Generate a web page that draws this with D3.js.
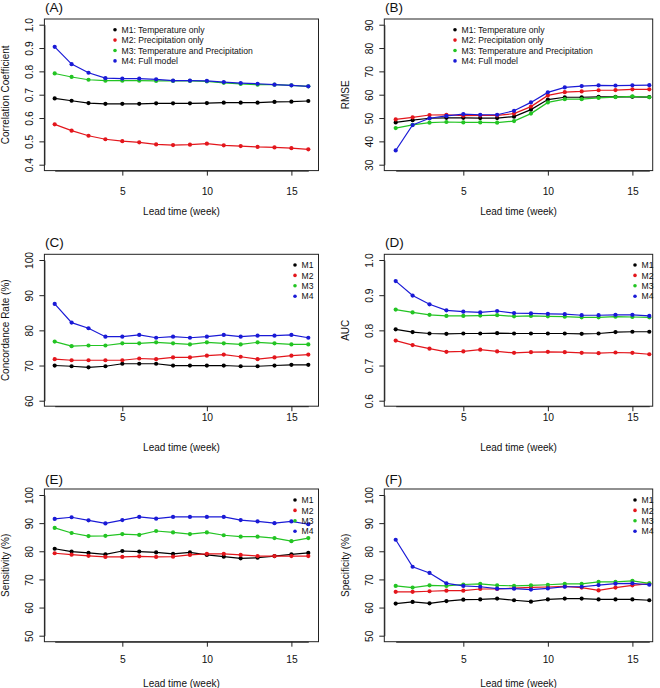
<!DOCTYPE html>
<html><head><meta charset="utf-8">
<script src="https://cdn.jsdelivr.net/npm/d3@7"></script>
<style>
body{margin:0;background:#fff}
svg text{font-family:"Liberation Sans",Arial,Helvetica,sans-serif;fill:#111}
</style>
</head><body>
<svg id="chart" width="660" height="688"></svg>
<script>
// ---------------- data ----------------
const weeks = [1,2,3,4,5,6,7,8,9,10,11,12,13,14,15,16];
const xTicks = [5,10,15];
const modelNames = ["M1","M2","M3","M4"];
const modelLong = ["M1: Temperature only","M2: Precipitation only","M3: Temperature and Precipitation","M4: Full model"];
const modelColors = ["#000000","#e3161c","#23c423","#1a1ad6"];

// (A) Correlation coefficient
const corrM1 = [0.684,0.674,0.664,0.661,0.661,0.661,0.663,0.663,0.663,0.664,0.666,0.666,0.666,0.669,0.670,0.673];
const corrM2 = [0.573,0.546,0.524,0.509,0.501,0.496,0.487,0.484,0.486,0.490,0.483,0.480,0.476,0.474,0.471,0.466];
const corrM3 = [0.791,0.776,0.764,0.760,0.760,0.760,0.759,0.759,0.759,0.757,0.751,0.746,0.743,0.743,0.740,0.736];
const corrM4 = [0.905,0.831,0.794,0.771,0.769,0.769,0.766,0.760,0.760,0.759,0.754,0.750,0.747,0.743,0.740,0.736];
const corrTicks = [0.4,0.5,0.6,0.7,0.8,0.9,1.0];

// (B) RMSE
const rmseM1 = [48.1,49.1,49.9,50.1,50.1,50.0,50.0,50.6,53.6,57.9,58.9,58.9,59.1,59.1,59.1,59.0];
const rmseM2 = [49.4,50.3,51.3,51.4,51.0,51.1,51.1,51.9,54.9,59.7,61.1,61.4,61.9,62.0,62.3,62.3];
const rmseM3 = [45.7,47.1,48.0,48.3,48.1,48.1,48.0,48.7,51.9,56.7,58.1,58.1,58.6,59.0,59.3,58.9];
const rmseM4 = [36.1,47.0,49.9,50.9,51.7,51.4,51.4,53.1,56.7,61.0,63.1,63.7,64.0,63.9,64.0,64.1];
const rmseTicks = [30,40,50,60,70,80,90];

// (C) Concordance rate (%)
const concM1 = [70.0,69.8,69.5,69.8,70.5,70.5,70.5,70.0,70.0,70.0,70.0,69.8,69.8,70.0,70.2,70.2];
const concM2 = [71.8,71.5,71.5,71.5,71.5,72.0,71.8,72.3,72.3,72.8,73.1,72.5,71.8,72.3,72.8,73.1];
const concM3 = [76.8,75.5,75.7,75.7,76.3,76.3,76.6,76.3,76.0,76.6,76.3,76.0,76.6,76.3,76.0,76.0];
const concM4 = [87.5,82.2,80.6,78.2,78.2,78.7,77.9,78.2,77.9,78.2,78.7,78.2,78.5,78.5,78.7,77.9];
const concTicks = [60,70,80,90,100];

// (D) AUC
const aucM1 = [0.803,0.795,0.791,0.790,0.791,0.791,0.792,0.791,0.791,0.791,0.791,0.790,0.791,0.795,0.796,0.796];
const aucM2 = [0.771,0.758,0.748,0.739,0.740,0.745,0.740,0.736,0.738,0.739,0.738,0.736,0.735,0.737,0.736,0.732];
const aucM3 = [0.859,0.851,0.844,0.841,0.841,0.842,0.843,0.840,0.841,0.840,0.839,0.837,0.837,0.839,0.838,0.837];
const aucM4 = [0.940,0.899,0.874,0.857,0.853,0.851,0.855,0.849,0.848,0.847,0.846,0.843,0.843,0.844,0.844,0.841];
const aucTicks = [0.6,0.7,0.8,0.9,1.0];

// (E) Sensitivity (%)
const sensM1 = [80.9,79.9,79.4,78.9,80.1,79.9,79.6,79.1,79.6,78.7,78.1,77.5,77.7,78.3,78.9,79.4];
const sensM2 = [79.3,78.8,78.4,78.0,78.0,78.2,78.0,78.1,78.7,79.1,79.1,78.7,78.3,78.3,78.3,78.3];
const sensM3 = [88.3,86.5,85.4,85.5,86.1,85.8,87.2,86.7,86.1,86.7,85.7,85.2,85.2,84.7,83.6,84.7];
const sensM4 = [91.5,92.1,91.0,89.9,91.1,92.2,91.6,92.2,92.2,92.2,92.2,91.1,90.6,90.0,90.6,89.6];
const sensTicks = [50,60,70,80,90,100];

// (F) Specificity (%)
const specM1 = [61.4,62.0,61.5,62.3,62.8,62.9,63.2,62.6,62.1,62.9,63.2,63.2,62.9,62.9,62.9,62.6];
const specM2 = [65.6,65.6,65.8,66.0,66.0,66.6,66.6,66.9,67.2,67.3,67.5,67.1,66.1,67.1,67.9,68.5];
const specM3 = [67.7,67.1,67.9,67.7,68.2,68.4,67.9,67.7,67.9,68.1,68.4,68.4,69.1,69.1,69.5,68.6];
const specM4 = [84.1,74.5,72.3,68.6,67.7,67.4,66.7,66.7,66.4,66.8,67.4,67.4,68.0,68.5,68.6,68.1];
const specTicks = [50,60,70,80,90,100];

const panelTitles = ["(A)","(B)","(C)","(D)","(E)","(F)"];
const yLabels = ["Correlation Coefficient","RMSE","Concordance Rate (%)","AUC","Sensitivity (%)","Specificity (%)"];
const xLabel = "Lead time (week)";

// ---------------- layout ----------------
const cols = [
  {boxL:44.4, boxR:318.5, x1:54.7, x16:308.3, titleX:45},
  {boxL:384.3, boxR:652.7, x1:395.7, x16:649.3, titleX:385}
];
const rows = [
  {boxT:19.0, boxB:170.6, tTop:24.7, tBot:164.7, tickLab:21.0, xTitle:41.0, head:11.5, legY:10.7},
  {boxT:254.3, boxB:406.2, tTop:260.0, tBot:400.7, tickLab:10.7, xTitle:40.8, head:247.0, legY:10.7},
  {boxT:489.0, boxB:641.7, tTop:495.0, tBot:635.7, tickLab:17.3, xTitle:41.6, head:483.5, legY:11.0}
];
const legendX = [115, 455, 295, 635, 295, 635];

const panels = [
  {series:[corrM1,corrM2,corrM3,corrM4], ticks:corrTicks, fmt:d3.format(".1f"), long:true},
  {series:[rmseM1,rmseM2,rmseM3,rmseM4], ticks:rmseTicks, fmt:d3.format("d"), long:true},
  {series:[concM1,concM2,concM3,concM4], ticks:concTicks, fmt:d3.format("d"), long:false},
  {series:[aucM1,aucM2,aucM3,aucM4], ticks:aucTicks, fmt:d3.format(".1f"), long:false},
  {series:[sensM1,sensM2,sensM3,sensM4], ticks:sensTicks, fmt:d3.format("d"), long:false},
  {series:[specM1,specM2,specM3,specM4], ticks:specTicks, fmt:d3.format("d"), long:false}
];

const svg = d3.select("#chart");
const axisColor = "#222";

panels.forEach((p, i) => {
  const c = cols[i % 2], r = rows[Math.floor(i / 2)];
  const x = d3.scaleLinear().domain([weeks[0], weeks[weeks.length-1]]).range([c.x1, c.x16]);
  const y = d3.scaleLinear().domain([p.ticks[0], p.ticks[p.ticks.length-1]]).range([r.tBot, r.tTop]);
  const g = svg.append("g");

  // box
  g.append("rect").attr("x", c.boxL).attr("y", r.boxT)
    .attr("width", c.boxR - c.boxL).attr("height", r.boxB - r.boxT)
    .attr("fill", "none").attr("stroke", axisColor).attr("stroke-width", 1);

  // y axis
  const ya = g.append("g").attr("transform", `translate(${c.boxL},0)`)
    .call(d3.axisLeft(y).tickValues(p.ticks).tickFormat(p.fmt).tickSize(5).tickSizeOuter(0));
  ya.select(".domain").attr("stroke", axisColor);
  ya.selectAll(".tick line").attr("stroke", axisColor);
  ya.selectAll(".tick text")
    .attr("x", null).attr("dy", null)
    .attr("transform", "translate(-11.5,0) rotate(-90)")
    .attr("text-anchor", "middle")
    .style("font-size", "10.3px").style("fill", "#111");

  // x axis
  const xa = g.append("g").attr("transform", `translate(0,${r.boxB})`)
    .call(d3.axisBottom(x).tickValues(xTicks).tickFormat(d3.format("d")).tickSize(5).tickSizeOuter(0));
  xa.select(".domain").attr("stroke", axisColor);
  xa.selectAll(".tick line").attr("stroke", axisColor);
  xa.selectAll(".tick text")
    .attr("y", r.tickLab + 3.7).attr("dy", null)
    .style("font-size", "10.3px").style("fill", "#111");

  // axis titles
  g.append("text").attr("x", (c.boxL + c.boxR) / 2).attr("y", r.boxB + r.xTitle + 3.6)
    .attr("text-anchor", "middle").style("font-size", "10px").text(xLabel);
  const yc = (r.boxT + r.boxB) / 2;
  g.append("text").attr("transform", `translate(${c.boxL - 35.5},${yc}) rotate(-90)`)
    .attr("text-anchor", "middle").style("font-size", "10px").text(yLabels[i]);

  // panel title
  g.append("text").attr("x", c.titleX).attr("y", r.head)
    .style("font-size", "13.5px").text(panelTitles[i]);

  // series
  const line = d3.line().x((d, k) => x(weeks[k])).y(d => y(d));
  p.series.forEach((s, m) => {
    g.append("path").datum(s).attr("d", line)
      .attr("fill", "none").attr("stroke", modelColors[m]).attr("stroke-width", 1.2);
    g.selectAll(null).data(s).enter().append("circle")
      .attr("cx", (d, k) => x(weeks[k])).attr("cy", d => y(d))
      .attr("r", 2.1).attr("fill", modelColors[m]);
  });

  // legend
  const lx = legendX[i];
  const labels = p.long ? modelLong : modelNames;
  labels.forEach((lab, m) => {
    const ly = r.boxT + r.legY + m * 10.4;
    g.append("circle").attr("cx", lx).attr("cy", ly).attr("r", 1.8).attr("fill", modelColors[m]);
    g.append("text").attr("x", lx + 6.5).attr("y", ly + 3.1)
      .style("font-size", "8.6px").text(lab);
  });
});
</script>
</body></html>
